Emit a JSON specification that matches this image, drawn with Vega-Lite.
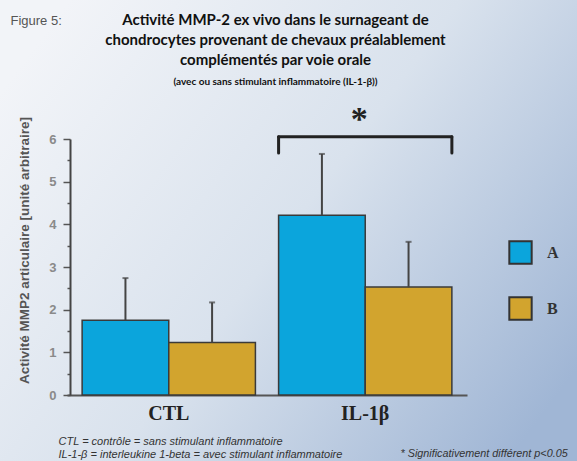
{
  "$schema": "https://vega.github.io/schema/vega-lite/v6.json",
  "width": 577,
  "height": 461,
  "autosize": "none",
  "padding": 0,
  "background": "#dfe6ef",
  "config": {
    "view": {
      "stroke": null,
      "fill": {
        "gradient": "linear",
        "x1": 0, "y1": 0.2, "x2": 1, "y2": 0.8,
        "stops": [
          {"offset": 0, "color": "#f2f4f8"},
          {"offset": 0.5, "color": "#d9e2ed"},
          {"offset": 1, "color": "#a0b6d5"}
        ]
      }
    }
  },
  "title": {
    "text": ["Activité MMP-2 ex vivo dans le surnageant de", "chondrocytes provenant de chevaux préalablement", "complémentés par voie orale"],
    "subtitle": "(avec ou sans stimulant inflammatoire (IL-1-β))",
    "anchor": "middle",
    "frame": "group",
    "offset": -87,
    "dx": -13,
    "font": "Lato",
    "fontSize": 15,
    "fontWeight": "bold",
    "color": "#111111",
    "lineHeight": 20,
    "subtitleFont": "Lato",
    "subtitleFontSize": 10,
    "subtitleFontWeight": "bold",
    "subtitleColor": "#111111",
    "subtitlePadding": 9
  },
  "datasets": {
    "bars": [
      {"g": "CTL", "s": "A", "v": 1.75, "hi": 2.74},
      {"g": "CTL", "s": "B", "v": 1.23, "hi": 2.17},
      {"g": "IL-1β", "s": "A", "v": 4.21, "hi": 5.65},
      {"g": "IL-1β", "s": "B", "v": 2.53, "hi": 3.59}
    ],
    "bracket": [
      {"g": "IL-1β", "top": 6.05, "bot": 5.67}
    ],
    "star": [
      {"g": "IL-1β", "y": 6.45, "t": "*"}
    ]
  },
  "layer": [
    {
      "data": {"name": "bars"},
      "mark": {"type": "bar", "stroke": "#3a3a3a", "strokeWidth": 1.5},
      "encoding": {
        "x": {
          "field": "g", "type": "nominal", "sort": ["CTL", "IL-1β"],
          "scale": {"range": [67, 467], "paddingInner": 0.118, "paddingOuter": 0.077},
          "axis": {
            "orient": "bottom", "offset": -66, "labelAngle": 0,
            "labelFont": "Liberation Serif", "labelFontSize": 20, "labelFontWeight": "bold",
            "labelColor": "#222222", "labelPadding": 8, "ticks": false,
            "domainColor": "#555555", "domainWidth": 2,
            "title": ["CTL = contrôle = sans stimulant inflammatoire", "IL-1-β = interleukine 1-beta = avec stimulant inflammatoire"],
            "titleFont": "Liberation Sans", "titleFontSize": 11, "titleFontStyle": "italic", "titleFontWeight": "normal",
            "titleColor": "#333333", "titleAlign": "left", "titleAnchor": "start", "titleBaseline": "top",
            "titleX": 58, "titleY": 40, "titleLineHeight": 13
          }
        },
        "xOffset": {"field": "s", "type": "nominal"},
        "y": {
          "field": "v", "type": "quantitative",
          "scale": {"domain": [0, 6], "range": [395, 139], "nice": false},
          "axis": {
            "orient": "left", "offset": -70,
            "values": [0, 0.5, 1, 1.5, 2, 2.5, 3, 3.5, 4, 4.5, 5, 5.5, 6],
            "labelExpr": "datum.value % 1 === 0 ? format(datum.value, 'd') : ''",
            "tickSize": {"condition": {"test": "datum.value % 1 !== 0", "value": 3}, "value": 7},
            "tickColor": "#555555", "tickWidth": 1.5,
            "domainColor": "#444444", "domainWidth": 2, "grid": false,
            "labelFont": "Liberation Sans", "labelFontSize": 13, "labelFontWeight": "bold",
            "labelColor": "#8a8a8a", "labelPadding": 7,
            "title": "Activité MMP2 articulaire [unité arbitraire]",
            "titleFont": "Liberation Sans", "titleFontSize": 13.5, "titleFontWeight": "bold",
            "titleColor": "#555555", "titleX": -46, "titleY": 250, "titleAngle": -90,
            "titleAlign": "center", "titleBaseline": "middle"
          }
        },
        "color": {
          "field": "s", "type": "nominal",
          "scale": {"domain": ["A", "B"], "range": ["#0ba5dc", "#d2a42e"]},
          "legend": {
            "orient": "none", "legendX": 508, "legendY": 240, "title": null,
            "symbolType": "square", "symbolSize": 500, "symbolStrokeColor": "#333333",
            "symbolStrokeWidth": 2, "symbolOpacity": 1,
            "labelFont": "Liberation Serif", "labelFontSize": 16, "labelFontWeight": "bold",
            "labelColor": "#333333", "labelOffset": 14, "rowPadding": 25, "padding": 0
          }
        }
      }
    },
    {
      "data": {"name": "bars"},
      "mark": {"type": "rule", "color": "#444444", "strokeWidth": 2},
      "encoding": {
        "x": {"field": "g", "type": "nominal", "axis": null},
        "xOffset": {"field": "s", "type": "nominal"},
        "y": {"field": "v", "type": "quantitative", "axis": null},
        "y2": {"field": "hi"}
      }
    },
    {
      "data": {"name": "bars"},
      "mark": {"type": "tick", "color": "#444444", "size": 6, "thickness": 2, "orient": "horizontal"},
      "encoding": {
        "x": {"field": "g", "type": "nominal", "axis": null},
        "xOffset": {"field": "s", "type": "nominal"},
        "y": {"field": "hi", "type": "quantitative", "axis": null}
      }
    },
    {
      "data": {"name": "bracket"},
      "mark": {"type": "rule", "color": "#222222", "strokeWidth": 3, "strokeCap": "round"},
      "encoding": {
        "x": {"field": "g", "type": "nominal", "bandPosition": 0, "axis": null},
        "x2": {"field": "g", "bandPosition": 1},
        "y": {"field": "top", "type": "quantitative", "axis": null}
      }
    },
    {
      "data": {"name": "bracket"},
      "mark": {"type": "rule", "color": "#222222", "strokeWidth": 3, "strokeCap": "round"},
      "encoding": {
        "x": {"field": "g", "type": "nominal", "bandPosition": 0, "axis": null},
        "y": {"field": "top", "type": "quantitative", "axis": null},
        "y2": {"field": "bot"}
      }
    },
    {
      "data": {"name": "bracket"},
      "mark": {"type": "rule", "color": "#222222", "strokeWidth": 3, "strokeCap": "round"},
      "encoding": {
        "x": {"field": "g", "type": "nominal", "bandPosition": 1, "axis": null},
        "y": {"field": "top", "type": "quantitative", "axis": null},
        "y2": {"field": "bot"}
      }
    },
    {
      "data": {"name": "star"},
      "mark": {"type": "text", "font": "Liberation Serif", "fontSize": 34, "fontWeight": "bold", "color": "#222222", "baseline": "middle", "dx": -6},
      "encoding": {
        "x": {
          "field": "g", "type": "nominal",
          "axis": {
            "orient": "top", "labels": false, "ticks": false, "domain": false,
            "title": "Figure 5:", "titleFont": "Liberation Sans", "titleFontSize": 13,
            "titleFontWeight": "normal", "titleColor": "#555555",
            "titleAlign": "left", "titleBaseline": "top", "titleX": 10, "titleY": 14
          }
        },
        "y": {
          "field": "y", "type": "quantitative",
          "axis": {
            "orient": "right", "labels": false, "ticks": false, "domain": false, "grid": false,
            "title": "* Significativement différent p<0.05",
            "titleFont": "Liberation Sans", "titleFontSize": 10.8, "titleFontStyle": "italic",
            "titleFontWeight": "normal", "titleColor": "#333333", "titleAngle": 0,
            "titleAlign": "left", "titleBaseline": "top", "titleX": -177, "titleY": 447
          }
        },
        "text": {"field": "t"}
      }
    }
  ],
  "resolve": {"axis": {"x": "independent", "y": "independent"}}
}
